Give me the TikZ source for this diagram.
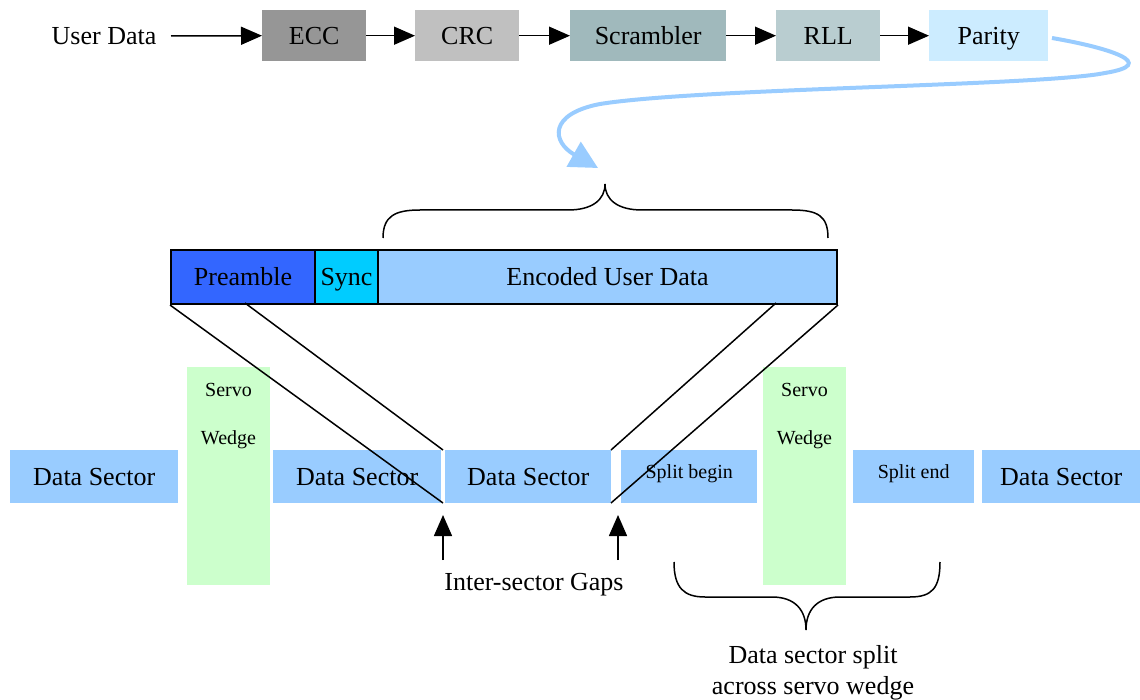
\documentclass[tikz,border=0pt]{standalone}
\usepackage{fontspec}
\setmainfont{Liberation Serif}
\usetikzlibrary{arrows.meta}
\definecolor{eccgray}{RGB}{150,150,150}
\definecolor{crcgray}{RGB}{192,192,192}
\definecolor{scrcol}{RGB}{160,185,188}
\definecolor{rllcol}{RGB}{185,205,208}
\definecolor{parcol}{RGB}{204,236,255}
\definecolor{dsblue}{RGB}{153,204,255}
\definecolor{preblue}{RGB}{51,102,255}
\definecolor{synccyan}{RGB}{0,204,255}
\definecolor{servogreen}{RGB}{204,255,204}
\tikzset{
  big/.style={font=\fontsize{26}{31}\selectfont},
  bigc/.style={big, text height=17pt, text depth=0pt},
  small/.style={font=\fontsize{20}{22}\selectfont},
  smallc/.style={small, text height=13pt, text depth=0pt},
  stage/.style={bigc, inner sep=0pt, anchor=north west, minimum height=51pt},
  barbox/.style={bigc, inner sep=0pt, anchor=north west, minimum height=54pt, draw=black, line width=2pt},
  sector/.style={inner sep=0pt, anchor=north west, minimum height=53pt, fill=dsblue},
  wedge/.style={inner sep=0pt, anchor=north west, minimum height=218pt, minimum width=83pt, fill=servogreen},
  flow/.style={line width=1.5pt, -{Triangle[length=21pt,width=18pt]}},
  uparrow/.style={line width=1.5pt, -{Triangle[length=21pt,width=18pt]}},
  brace/.style={line width=1.5pt},
  link/.style={line width=1.5pt}
}
\begin{document}
\begin{tikzpicture}[x=1pt,y=-1pt]
\useasboundingbox (0,0) rectangle (1140,700);

% top pipeline
\node[bigc] (ud) at (104,36) {User Data};
\node[stage, fill=eccgray, minimum width=104pt] (ecc) at (262,10) {ECC};
\node[stage, fill=crcgray, minimum width=104pt] (crc) at (415,10) {CRC};
\node[stage, fill=scrcol, minimum width=156pt] (scr) at (570,10) {Scrambler};
\node[stage, fill=rllcol, minimum width=104pt] (rll) at (776,10) {RLL};
\node[stage, fill=parcol, minimum width=119pt] (par) at (929,10) {Parity};
\coordinate (udstart) at (171,36);
\draw[flow] (udstart) -- (ecc.west);
\draw[flow] (ecc.east) -- (crc.west);
\draw[flow] (crc.east) -- (scr.west);
\draw[flow] (scr.east) -- (rll.west);
\draw[flow] (rll.east) -- (par.west);

% blue curved arrow
\coordinate (curvestart) at (1052,38);
\coordinate (curveend) at (598,168);
\draw[line width=4pt, dsblue, -{Triangle[length=28pt,width=28pt]}]
  (curvestart) .. controls (1110,48) and (1160,64) .. (1105,73)
  .. controls (1040,86) and (700,88) .. (600,104)
  .. controls (548,114) and (552,142) .. (curveend);

% top brace
\coordinate (btip) at (605,184);
\draw[brace] (383,238) .. controls (383,216) and (395,210) .. (420,210) -- (568,210)
  .. controls (592,210) and (605,200) .. (btip)
  .. controls (605,200) and (618,210) .. (642,210) -- (792,210)
  .. controls (818,210) and (828,216) .. (828,238);

% data sector row
\node[sector, minimum width=168pt] (ds1) at (10,450) {};
\node[bigc] at (ds1.center) {Data Sector};
\node[wedge] (sw1) at (187,367) {};
\node[small] (sw1a) at (228.5,390) {Servo};
\node[small] (sw1b) at (228.5,440) {Wedge};
\node[sector, minimum width=168pt] (ds2) at (273,450) {};
\node[bigc] at (ds2.center) {Data Sector};
\node[sector, minimum width=166pt] (ds3) at (445,450) {};
\node[bigc] at (ds3.center) {Data Sector};
\node[sector, minimum width=136pt] (sb) at (621,450) {};
\node[smallc] at ([yshift=5pt]sb.center) {Split begin};
\node[wedge] (sw2) at (763,367) {};
\node[small] (sw2a) at (804.5,390) {Servo};
\node[small] (sw2b) at (804.5,440) {Wedge};
\node[sector, minimum width=121pt] (se) at (853,450) {};
\node[smallc] at ([yshift=5pt]se.center) {Split end};
\node[sector, minimum width=158pt] (ds4) at (982,450) {};
\node[bigc] at (ds4.center) {Data Sector};

% sector bar
\node[barbox, fill=preblue, minimum width=144pt] (pre) at (170,249) {Preamble};
\node[barbox, fill=synccyan, minimum width=63pt] (sync) at (314,249) {Sync};
\node[barbox, fill=dsblue, minimum width=459pt] (enc) at (377,249) {Encoded User Data};

% projection lines
\coordinate (g1top) at (443,450);
\coordinate (g1bot) at (443,503);
\coordinate (g2top) at (611,450);
\coordinate (g2bot) at (611,503);
\coordinate (preinner) at (245,303);
\coordinate (encinner) at (776,303);
\draw[link] (pre.south west) -- (g1bot);
\draw[link] (preinner) -- (g1top);
\draw[link] (enc.south east) -- (g2bot);
\draw[link] (encinner) -- (g2top);

% gap arrows
\coordinate (a1s) at (443,560);
\coordinate (a1e) at (443,515);
\coordinate (a2s) at (618,560);
\coordinate (a2e) at (618,515);
\draw[uparrow] (a1s) -- (a1e);
\draw[uparrow] (a2s) -- (a2e);
\node[bigc] (gaps) at (534,582) {Inter-sector Gaps};

% bottom brace
\draw[brace] (674,562) .. controls (674,588) and (684,597) .. (705,597) -- (772,597)
  .. controls (795,597) and (806,610) .. (806,630)
  .. controls (806,610) and (817,597) .. (840,597) -- (910,597)
  .. controls (932,597) and (940,588) .. (940,562);
\node[big, align=center, inner sep=0pt] (split) at (813,673) {Data sector split\\across servo wedge};
\end{tikzpicture}
\end{document}
